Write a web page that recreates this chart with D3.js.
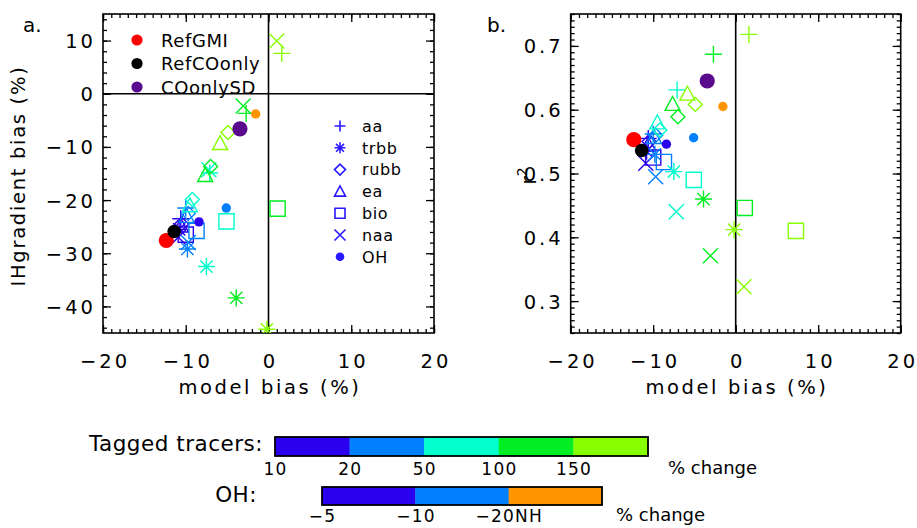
<!DOCTYPE html>
<html><head><meta charset="utf-8">
<script src="https://cdn.jsdelivr.net/npm/d3@7"></script>
<style>body{margin:0;background:#fff}svg{display:block}text{font-family:"DejaVu Sans",sans-serif;fill:#000}</style>
</head><body><svg id="c" width="917" height="528"></svg>
<script>
// ---------- data ----------
const tracers = ["aa","trbb","rubb","ea","bio","naa"];
const tracerSymbols = ["plus","asterisk","diamond","triangle","square","cross"];
const levels = ["10","20","50","100","150"];
const levelColors = ["#2a00ee","#0080ff","#00ffcc","#00ee22","#88ff00"];
// model bias (%) per tracer, one value per level
const modelBias = {
  aa:   [-10.6,-10.0,-7.1,-2.7, 1.6],
  trbb: [-10.8, -9.8,-7.5,-3.9,-0.2],
  rubb: [-10.5, -9.7,-9.2,-7.0,-4.9],
  ea:   [-10.6, -9.9,-9.5,-7.65,-5.85],
  bio:  [-10.0, -8.7,-5.08, 1.1, 7.3],
  naa:  [-10.9, -9.7,-7.2,-3.06, 1.0]
};
// IH gradient bias (%) (null = outside plotted range)
const ihBias = {
  aa:   [-23.5,-21.5,-14.9, -3.7,  7.6],
  trbb: [-25.5,-29.2,-32.5,-38.4,-44.3],
  rubb: [-24.5,-22.5,-19.9,-13.7, -7.3],
  ea:   [-24.8,-23.0,-21.0,-15.3, -9.3],
  bio:  [-26.5,-25.8,-24.0,-21.6, null],
  naa:  [-27.0,-28.0,-14.3, -2.3,  9.9]
};
// r^2
const rSquared = {
  aa:   [0.555,0.562,0.631,0.687,0.718],
  trbb: [0.535,0.530,0.503,0.460,0.412],
  rubb: [0.550,0.560,0.568,0.589,0.608],
  ea:   [0.545,0.557,0.580,0.609,0.625],
  bio:  [0.525,0.518,0.490,0.446,0.410],
  naa:  [0.516,0.495,0.440,0.371,0.3225]
};
const ohLabels = ["\u22125","\u221210","\u221220NH"];
const ohColors = ["#2a00ee","#0080ff","#ff9400"];
const ohModelBias = [-8.4,-5.1,-1.55];
const ohIH = [-24.1,-21.5,-3.8];
const ohR2 = [0.546,0.556,0.605];
const refNames = ["RefGMI","RefCOonly","COonlySD"];
const refColors = ["#ff0000","#000000","#5a0a8c"];
const refModelBias = [-12.35,-11.4,-3.45];
const refIH = [-27.6,-25.9,-6.6];
const refR2 = [0.553,0.536,0.645];
const tracerTicks = ["10","20","50","100","150"];

// ---------- helpers ----------
const svg = d3.select("#c");
function symPath(type, s){
  const h = s/2;
  switch(type){
    case "plus": return `M${-h},0H${h}M0,${-h}V${h}`;
    case "cross": return `M${-h},${-h}L${h},${h}M${-h},${h}L${h},${-h}`;
    case "asterisk": {
      const d = h*0.72;
      return `M${-h},0H${h}M0,${-h}V${h}M${-d},${-d}L${d},${d}M${-d},${d}L${d},${-d}`;
    }
    case "diamond": return `M0,${-h}L${h},0L0,${h}L${-h},0Z`;
    case "triangle": return `M0,${-h}L${h},${h*0.85}L${-h},${h*0.85}Z`;
    case "square": { const q=h*0.95; return `M${-q},${-q}H${q}V${q}H${-q}Z`; }
  }
}
const symSize = {plus:17,cross:15,asterisk:17,diamond:14,triangle:15,square:16};

function panel(opts){
  const g = svg.append("g");
  const {x,y,xMinor,yFmt,id} = opts;
  const [x0,x1]=x.range(), [y0,y1]=y.range();
  g.append("clipPath").attr("id",id).append("rect")
    .attr("x",x0).attr("y",y1).attr("width",x1-x0).attr("height",y0-y1);
  const mk=(axisFn, scale, vals, len, tr, fmt)=>{
    const a = axisFn(scale).tickValues(vals).tickSize(-len);
    a.tickFormat(fmt ? fmt : "");
    const ag = g.append("g").attr("transform",tr).call(a);
    ag.select(".domain").remove();
    ag.selectAll("line").attr("stroke","#000").attr("stroke-width",1.3);
    return ag;
  };
  const xMaj = d3.range(-20,20.01,10), xMin = d3.range(-20,20.01,xMinor);
  const yMaj = opts.yMajor, yMin = opts.yMinorVals;
  mk(d3.axisBottom,x,xMin,4,`translate(0,${y0})`);
  const bx = mk(d3.axisBottom,x,xMaj,8,`translate(0,${y0})`,d3.format("d"));
  bx.selectAll("text").attr("y",34.7).attr("dy",0).attr("dx",1.5)
    .attr("font-size",19.5).attr("letter-spacing",3).style("font-family","DejaVu Sans");
  mk(d3.axisTop,x,xMin,4,`translate(0,${y1})`);
  mk(d3.axisTop,x,xMaj,8,`translate(0,${y1})`);
  mk(d3.axisLeft,y,yMin,4,`translate(${x0},0)`);
  const ly = mk(d3.axisLeft,y,yMaj,8,`translate(${x0},0)`,yFmt);
  ly.selectAll("text").attr("x",-7).attr("dy","0.36em")
    .attr("font-size",19.5).attr("letter-spacing",3).style("font-family","DejaVu Sans");
  mk(d3.axisRight,y,yMin,4,`translate(${x1},0)`);
  mk(d3.axisRight,y,yMaj,8,`translate(${x1},0)`);
  g.append("rect").attr("x",x0).attr("y",y1).attr("width",x1-x0).attr("height",y0-y1)
    .attr("fill","none").attr("stroke","#000").attr("stroke-width",1.6);
  g.append("line").attr("x1",x(0)).attr("x2",x(0)).attr("y1",y1).attr("y2",y0)
    .attr("stroke","#000").attr("stroke-width",1.6);
  if(opts.hzero){
    g.append("line").attr("x1",x0).attr("x2",x1).attr("y1",y(0)).attr("y2",y(0))
      .attr("stroke","#000").attr("stroke-width",1.6);
  }
  const pg = g.append("g").attr("clip-path",`url(#${id})`);
  const pts=[];
  levels.forEach((lv,li)=>{
    tracers.forEach((t,ti)=>{
      const yv = opts.yData[t][li];
      if(yv==null) return;
      pts.push({t,sym:tracerSymbols[ti],c:levelColors[li],xv:modelBias[t][li],yv});
    });
  });
  pg.selectAll("path.tr").data(pts).join("path").attr("class","tr")
    .attr("transform",d=>`translate(${x(d.xv)},${y(d.yv)})`)
    .attr("d",d=>symPath(d.sym,symSize[d.sym]))
    .attr("fill","none").attr("stroke",d=>d.c).attr("stroke-width",1.4);
  pg.selectAll("circle.oh").data(ohModelBias).join("circle").attr("class","oh")
    .attr("cx",d=>x(d)).attr("cy",(d,i)=>y(opts.ohY[i])).attr("r",4.7)
    .attr("fill",(d,i)=>ohColors[i]);
  pg.selectAll("circle.ref").data(refModelBias).join("circle").attr("class","ref")
    .attr("cx",d=>x(d)).attr("cy",(d,i)=>y(opts.refY[i])).attr("r",(d,i)=>i==1?6.8:7.6)
    .attr("fill",(d,i)=>refColors[i]);
  return g;
}

const xa = d3.scaleLinear().domain([-20,20]).range([103,434]);
const ya = d3.scaleLinear().domain([-45,15]).range([333,14]);
panel({id:"ca",x:xa,y:ya,xMinor:1,yMajor:d3.range(-40,10.01,10),yMinorVals:d3.range(-44,15.01,2),
  yFmt:d3.format("d"),yData:ihBias,ohY:ohIH,refY:refIH,hzero:true});
const xb = d3.scaleLinear().domain([-20,20]).range([570.7,900.7]);
const yb = d3.scaleLinear().domain([0.25,0.75]).range([333,14]);
panel({id:"cb",x:xb,y:yb,xMinor:1,yMajor:[0.3,0.4,0.5,0.6,0.7],yMinorVals:d3.range(25,75.01,1).map(v=>v/100),
  yFmt:d3.format(".1f"),yData:rSquared,ohY:ohR2,refY:refR2,hzero:false});

// axis titles
const tt = {"font-size":19.5,"letter-spacing":2.6};
function title(sel){ return sel.attr("font-size",tt["font-size"]).attr("letter-spacing",tt["letter-spacing"]); }
title(svg.append("text").attr("x",270).attr("y",394).attr("text-anchor","middle").text("model bias (%)"));
title(svg.append("text").attr("x",737).attr("y",394).attr("text-anchor","middle").text("model bias (%)"));
svg.append("text").attr("transform","translate(25,176) rotate(-90)").attr("text-anchor","middle")
  .attr("font-size",19.5).attr("letter-spacing",1.7).text("IHgradient bias (%)");
const r2 = svg.append("text").attr("transform","translate(536,176) rotate(-90)").attr("text-anchor","middle").attr("font-size",21);
r2.append("tspan").text("r");
r2.append("tspan").attr("font-size",14).attr("dy",-9).text("2");
svg.append("text").attr("x",23).attr("y",32).attr("font-size",20).text("a.");
svg.append("text").attr("x",487).attr("y",32).attr("font-size",20).text("b.");

// legend: references
const lg = svg.append("g");
refNames.forEach((n,i)=>{
  const yy = 40 + i*23.5;
  lg.append("circle").attr("cx",137).attr("cy",yy).attr("r",5.6).attr("fill",refColors[i]);
  lg.append("text").attr("x",161).attr("y",yy+6.8).attr("font-size",18).attr("letter-spacing",0.6).text(n);
});
// legend: tracers
const legNames = tracers.concat(["OH"]);
legNames.forEach((n,i)=>{
  const yy = 126 + i*21.8;
  if(i<tracers.length){
    const s = tracerSymbols[i];
    lg.append("path").attr("transform",`translate(340,${yy})`).attr("d",symPath(s,s==="square"?10.5:11))
      .attr("fill","none").attr("stroke","#2a1aff").attr("stroke-width",1.6);
  } else {
    lg.append("circle").attr("cx",340).attr("cy",yy).attr("r",4.3).attr("fill","#2a1aff");
  }
  lg.append("text").attr("x",362).attr("y",yy+5.8).attr("font-size",16).attr("letter-spacing",0.6).text(n);
});

// colorbars
function colorbar(x0,x1,y0,y1,colors,labels,titleTxt,titleX,titleY,chgX,chgY,lblY){
  const s = d3.scaleBand().domain(d3.range(colors.length)).range([x0,x1]);
  const g = svg.append("g");
  g.selectAll("rect").data(colors).join("rect").attr("x",(d,i)=>s(i)).attr("y",y0)
    .attr("width",s.bandwidth()+0.3).attr("height",y1-y0).attr("fill",d=>d);
  g.append("rect").attr("x",x0).attr("y",y0).attr("width",x1-x0).attr("height",y1-y0)
    .attr("fill","none").attr("stroke","#000").attr("stroke-width",1.8);
  g.selectAll("text.l").data(labels).join("text").attr("class","l").attr("x",(d,i)=>s(i)+0.6)
    .attr("y",lblY).attr("text-anchor","middle").attr("font-size",17).attr("letter-spacing",1.2).text(d=>d);
  g.append("text").attr("x",titleX).attr("y",titleY).attr("text-anchor","end").attr("font-size",21.5).attr("letter-spacing",0.5).text(titleTxt);
  g.append("text").attr("x",chgX).attr("y",chgY).attr("font-size",18).text("% change");
}
colorbar(275,648,437,456,levelColors,tracerTicks,"Tagged tracers:",263,451,668,474,475);
colorbar(322,602,487,505,ohColors,ohLabels,"OH:",257,502,616,521,522);
</script></body></html>
